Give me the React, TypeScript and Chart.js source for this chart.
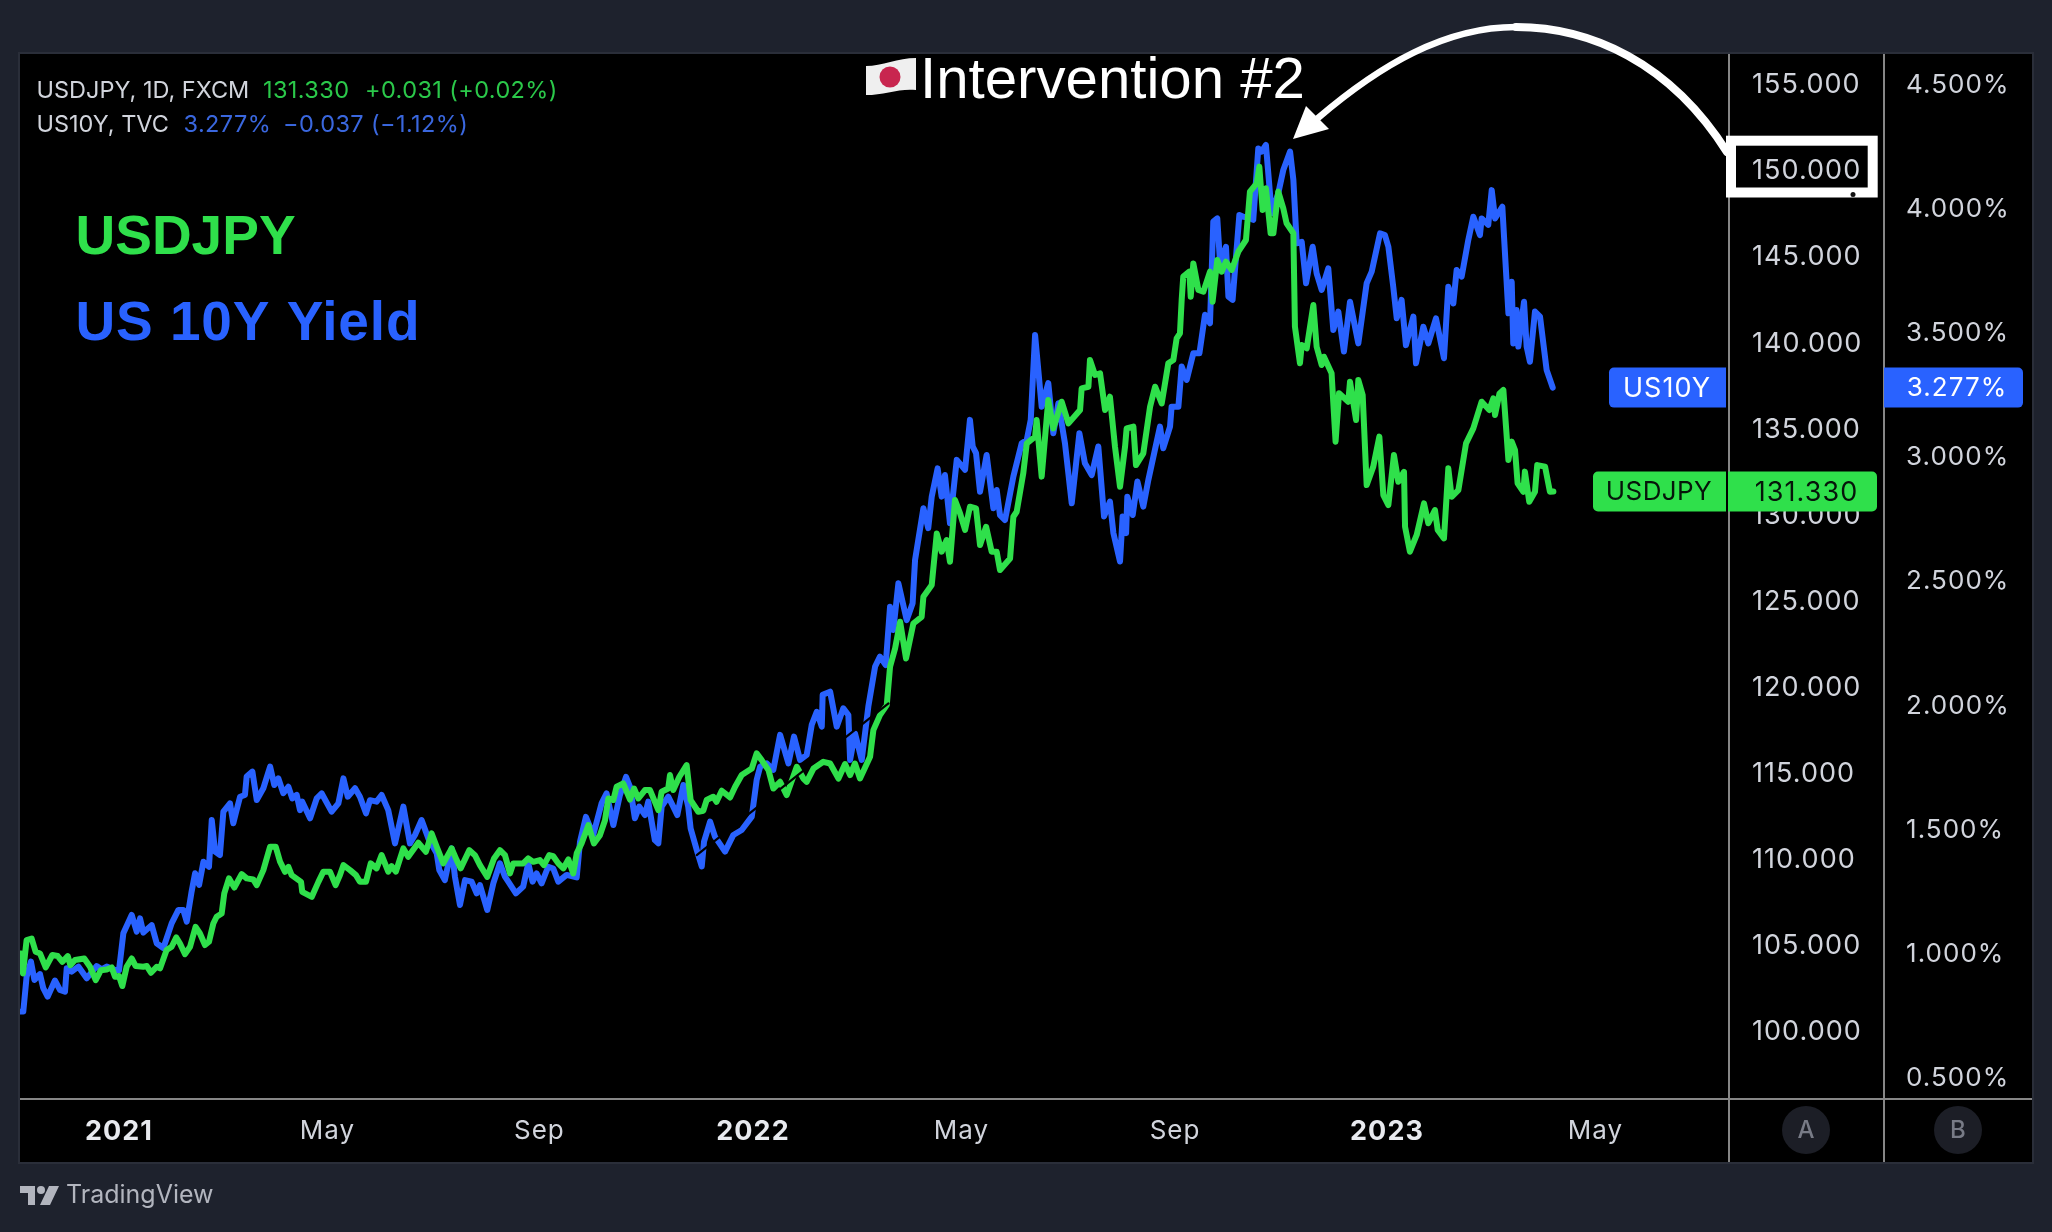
import React, { useEffect, useRef } from "react";
import { Chart, registerables } from "chart.js";

Chart.register(...registerables);

// Days since 2021-01-01
const jpyDays = [-56.4,-55.3,-53.2,-50.3,-48,-45.5,-42.2,-38.4,-35.3,-32.6,-29.5,-28,-25.3,-20,-16.7,-13.4,-10.4,-7.1,-4.2,-2.3,0,1.9,4.4,7.3,9.6,14,16,18.4,21.7,23.6,27.4,30.3,33,35.1,38,40.9,44.1,46.6,49.5,51.8,54.3,56.2,59.1,60.6,63.3,66.4,70.6,73.5,77.3,79.3,83.1,87,90.2,92.7,95.6,97.5,99.4,104.8,105.5,111,114.8,117.6,121.5,124.7,127.2,129.2,133,136.4,138.7,142.2,144.9,148.3,151.2,155,156.9,159.4,163.7,166.5,172.3,176.7,180,182.9,186.7,191.5,194.4,196.7,201.7,204.9,207.8,212,215.9,219.3,222.2,225.1,227,232.7,235.6,238.5,242.3,244.6,247.7,250,252.9,255.8,258.7,261.5,263.5,266.3,270.2,273.4,276.9,279.8,281.7,284.6,286.5,290.3,294.2,296.5,299,302.8,305.7,310.5,312.4,316.2,317.2,319.1,322.6,326.8,329.1,333.5,336.4,338.3,342.1,344,347,351.8,354.7,358.5,364.3,367.1,370,373.9,376.7,380.6,384.4,390.2,394,395.9,399.8,405.5,409.4,414.2,418,420.9,423.7,426.6,432.4,434.3,438.1,442,443.9,446.8,449.7,453.1,457.3,462.1,463.1,467.9,470.8,473.6,476.5,478.4,481.3,484.2,487.1,489.9,493.4,495.7,499.2,502.4,505.3,507.2,513,514.9,516.8,520.6,522.6,527.4,528.3,531.2,535,537.9,542.7,546.6,553.3,554.2,558.1,559,561.9,564.8,567.7,570.5,573.4,576.3,579.2,580.1,584,585.5,589.7,593.6,596.5,600.3,604.1,607,608.9,610.8,611.8,612.7,616.2,617,618.5,621.4,624.3,628.1,629.6,632.3,634.8,637.3,640.6,644.4,648.8,651.1,655,656.5,658.4,660.3,663,664.6,667.4,670.3,672.2,676.1,677,679.9,680.9,683.8,687.6,689.5,692.4,693.7,698.1,700.4,702.4,707.7,708.7,712.2,713.5,716,718.3,722.1,725.6,727.9,730.8,734,736.5,739.8,740.4,743.2,747.1,751.3,753.8,757.6,759.2,762.8,765.3,767.2,771.1,775.5,779.7,784.5,788.9,791.2,792.2,794.7,797,799.9,801.8,803.7,805.2,808.5,809.4,811.9,815.2,816.5,821,823.8,825.8];
const jpyValues = [104.5,103.34,105.28,105.37,104.6,104.5,103.69,104.41,104.35,104.02,104.35,103.82,104.12,104.21,103.73,102.95,103.53,103.57,103.69,103.15,103.19,102.61,103.73,104.21,103.77,103.73,103.77,103.38,103.73,103.63,104.7,104.89,105.43,105.08,104.46,104.89,106.05,105.66,104.99,105.18,106.24,106.63,106.82,107.99,108.86,108.33,109.11,108.86,108.8,108.47,109.34,110.7,110.7,109.83,109.24,109.53,109.05,108.66,108.08,107.79,108.66,109.24,109.24,108.47,109.05,109.63,109.34,109.05,108.66,108.66,109.73,109.44,110.21,109.25,109.57,109.25,110.6,110.11,110.93,110.41,111.47,110.7,109.73,110.6,109.92,109.44,110.5,110.21,109.63,108.95,110.02,110.5,110.21,109.15,109.73,109.73,110.02,109.82,109.92,109.63,110.21,110.15,109.73,109.44,109.96,109.15,110.31,110.89,111.95,110.89,111.37,112.24,113.5,113.41,114.18,114.37,113.44,114.08,113.5,113.99,113.99,112.82,113.89,114.08,114.86,113.99,114.76,115.44,113.41,112.73,112.79,113.41,113.6,113.31,113.95,113.56,114.18,114.86,115.24,116.12,115.73,115.15,114.08,114.47,113.7,115.34,114.66,114.47,115.24,115.63,115.53,114.66,115.5,114.86,115.53,114.66,115.92,117.47,118.34,118.92,121.15,122.21,123.76,121.63,123.66,124.05,125.22,125.9,128.89,127.83,128.51,127.25,130.83,130.06,129.09,130.44,130.35,128.22,129.28,127.83,127.83,126.77,127.44,129.86,130.15,132.38,134.12,134.51,135.48,132.19,136.64,134.99,136.54,135.28,136.06,137.31,137.41,138.96,138.09,138.19,136.06,136.83,133.93,131.6,133.93,134.99,135.09,132.86,133.54,136.25,137.41,136.44,138.77,138.96,140.22,140.51,142.45,143.8,144.09,142.64,144.57,143.03,142.93,144.09,142.35,144.77,144.09,144.67,144.19,145.25,145.93,148.74,149.22,150.19,147.67,148.93,146.32,146.32,148.74,147.77,146.9,146.32,140.9,138.77,139.83,139.64,142.15,139.73,138.67,139.15,138.19,134.22,137.03,136.54,137.7,135.48,137.8,136.93,131.7,132.77,134.51,131.12,130.54,133.44,131.89,132.47,129.28,127.83,128.8,130.64,129.48,130.25,129.09,128.6,132.67,131.02,131.41,134.12,134.99,136.54,136.06,136.73,135.77,137,137.22,133.15,134.22,133.73,131.8,131.31,132.48,130.73,131.31,132.86,132.77,131.31,131.33];

const yieldDays = [-56.4,-55.1,-53.2,-50.7,-48.7,-45.5,-43.6,-41.1,-36.9,-34,-31.1,-30.1,-27.3,-23.4,-18.6,-12.9,-10,-7.1,-2.3,0,2.5,7.3,10.2,12.1,14,18.8,21.7,25.5,30.3,34.2,37,39,41.8,43.8,46.1,48.6,51.8,53.4,55.3,58.1,60.1,63.9,65.8,67.7,69.7,72.5,73.5,76.8,79.3,83.1,87,89.4,91.7,94.6,97.5,99.8,102.3,104.2,105.5,110,113.8,116.7,122.4,126.3,129.2,131.7,135.9,138.7,142.2,144.5,148.3,151.2,155,158.9,163.7,167.5,170.4,174.2,178.1,182.9,184.4,187.6,191.5,193.4,196.3,199.2,203,205.9,207.8,212,215.5,219.3,222.2,224.1,228.5,232.7,235.6,238.1,240.4,243.3,247.1,250,252.9,257.7,263.5,265.4,268.8,273,277.8,280.7,284.6,288.4,291.9,294.2,297,299.5,302.8,304.7,308.5,310.5,312.4,316.2,319.1,321.4,324.9,327.7,329.1,332.6,335.5,336.8,340.3,343.1,348.9,353.7,358.5,364.3,367.1,369.1,372.9,376.7,380.6,385.4,388.6,392.1,395.9,398.8,401.7,404.6,405.1,409.4,413.2,417,419.9,420.9,423.7,427.6,431.4,435.3,438.1,441.4,443.9,445.8,448.7,453.5,456.9,458.3,463.1,465.9,467.9,471.3,473.6,475.5,478.4,482.3,487.1,489.9,491.5,493.4,495.7,499.5,503.4,505.3,507.2,510.1,514.9,519.7,522.6,524.9,527.4,531.2,535,537.9,540.8,544.6,548.5,552.9,556.1,560,563.8,567.1,570.5,572.5,576.3,577.8,579.8,580.5,583.6,586.3,589.7,592.6,599.3,601.2,605.1,606,609.9,611.8,614.7,618.5,622,625.2,628.1,630,632.3,633.9,637.3,638.7,641.1,645,647.3,650.2,653,655.9,657.8,660.3,663.6,667.4,670.3,674.2,676.1,678,680.9,683.4,687.2,689.5,692.4,696.2,699.1,702,705.2,708.7,713.5,718.3,721.2,726,728.8,730.8,733.6,735.6,738.4,740.9,745.2,746.7,750.9,753.8,758.2,762.8,765.3,768.2,770.1,773,776.8,779.7,783.5,784.5,788.3,790.3,792.2,796.4,799.9,801.8,802.7,804.6,805.6,808.9,810.4,812.3,815.2,818.1,821.9,825.4];
const yieldValues = [0.765,0.765,0.905,0.966,0.892,0.916,0.859,0.825,0.89,0.852,0.845,0.939,0.926,0.946,0.899,0.948,0.935,0.946,0.932,0.932,1.08,1.154,1.087,1.14,1.083,1.113,1.04,1.02,1.12,1.174,1.174,1.127,1.248,1.322,1.275,1.368,1.348,1.536,1.409,1.395,1.57,1.603,1.523,1.576,1.63,1.637,1.711,1.731,1.617,1.664,1.751,1.677,1.704,1.644,1.67,1.623,1.637,1.576,1.61,1.543,1.623,1.643,1.57,1.603,1.704,1.63,1.664,1.63,1.563,1.616,1.61,1.637,1.576,1.442,1.59,1.442,1.476,1.536,1.462,1.402,1.335,1.294,1.422,1.308,1.194,1.294,1.288,1.241,1.274,1.174,1.281,1.362,1.308,1.288,1.241,1.268,1.362,1.288,1.321,1.281,1.348,1.341,1.288,1.315,1.305,1.449,1.549,1.476,1.603,1.643,1.516,1.637,1.71,1.67,1.543,1.59,1.556,1.61,1.455,1.442,1.59,1.63,1.59,1.556,1.677,1.59,1.502,1.416,1.349,1.449,1.53,1.469,1.409,1.476,1.496,1.55,1.697,1.751,1.764,1.738,1.879,1.764,1.872,1.778,1.798,1.919,1.972,1.912,2.04,2.053,1.912,1.986,1.959,1.778,1.885,1.778,1.993,2.154,2.194,2.16,2.395,2.301,2.489,2.341,2.409,2.583,2.791,2.711,2.838,2.952,2.838,2.925,2.731,2.986,2.946,3.147,3.04,3.013,2.858,3.006,2.791,2.865,2.764,2.744,2.919,3.053,3.066,3.147,3.489,3.2,3.295,3.093,3.214,3.053,2.811,3.093,2.972,2.925,3.04,2.758,2.818,2.691,2.577,2.758,2.691,2.838,2.764,2.899,2.798,2.905,3.12,3.033,3.12,3.2,3.2,3.362,3.308,3.415,3.415,3.57,3.536,3.945,3.958,3.777,3.844,3.643,3.63,3.972,3.965,3.962,3.952,4.24,4.227,4.254,3.979,4.059,4.153,4.227,4.113,3.858,3.864,3.697,3.844,3.737,3.67,3.757,3.509,3.583,3.422,3.623,3.455,3.697,3.744,3.898,3.891,3.844,3.683,3.556,3.63,3.448,3.563,3.375,3.522,3.455,3.556,3.395,3.683,3.616,3.75,3.724,3.871,3.965,3.891,3.958,3.932,4.072,3.958,4.005,3.576,3.703,3.455,3.589,3.442,3.623,3.442,3.381,3.583,3.563,3.348,3.277];

// The drawn black trend line that shows only where it crosses the series
const trendDays = [332.6, 443];
const trendValues = [110.21, 119.02];

const jpyTicks = [100, 105, 110, 115, 120, 125, 130, 135, 140, 145, 150, 155];
const yieldTicks = [0.5, 1, 1.5, 2, 2.5, 3, 3.5, 4, 4.5];
const timeTickDays = [0, 120, 242, 365, 485, 608, 730, 850];
const timeTickLabels = ["2021", "May", "Sep", "2022", "May", "Sep", "2023", "May"];

const GREEN = "#2FE04B";
const BLUE = "#2962FF";
const SOFT = "#D1D4DC";
const PANEL = "#1E222D";
const RULE = "#868686";
const SANS = "Inter, 'Liberation Sans', sans-serif";
const HELV = "'Liberation Sans', Arial, sans-serif";
const AXIS_SPACING = "1.05px";

const pairs = (xs: number[], ys: number[]) => xs.map((x, i) => ({ x, y: ys[i] }));

const backdrop = {
  id: "backdrop",
  beforeDraw(chart: any) {
    const c = chart.ctx;
    c.save();
    c.fillStyle = PANEL;
    c.fillRect(0, 0, chart.width, chart.height);
    c.fillStyle = "#000";
    c.fillRect(20, 54, 2012, 1108);
    c.strokeStyle = "#2A2E39";
    c.lineWidth = 2;
    c.strokeRect(19, 53, 2014, 1110);
    c.restore();
    c.letterSpacing = AXIS_SPACING;
  },
};

const rules = {
  id: "rules",
  beforeDatasetsDraw(chart: any) {
    const c = chart.ctx;
    const { left, right, top, bottom } = chart.chartArea;
    const axisX2 = chart.scales.y1.right;
    c.save();
    c.strokeStyle = RULE;
    c.lineWidth = 2;
    c.beginPath();
    c.moveTo(left, bottom);
    c.lineTo(axisX2, bottom);
    c.moveTo(right, top);
    c.lineTo(right, 1162);
    c.moveTo(chart.scales.y.right, top);
    c.lineTo(chart.scales.y.right, 1162);
    c.stroke();
    c.letterSpacing = "0px";
    for (const [name, cx] of [["A", 1806], ["B", 1958]] as [string, number][]) {
      c.fillStyle = "#1C1E26";
      c.beginPath();
      c.arc(cx, 1130, 24, 0, Math.PI * 2);
      c.fill();
      c.fillStyle = "#787B86";
      c.font = `500 24px ${SANS}`;
      c.textAlign = "center";
      c.textBaseline = "middle";
      c.fillText(name, cx, 1131);
    }
    c.restore();
    c.letterSpacing = AXIS_SPACING;
  },
};

function roundRect(c: any, x: number, y: number, w: number, h: number, r: number[], color: string) {
  c.fillStyle = color;
  c.beginPath();
  c.roundRect(x, y, w, h, r);
  c.fill();
}

const overlay = {
  id: "overlay",
  afterDraw(chart: any) {
    const c = chart.ctx;
    const yJ = chart.scales.y.getPixelForValue(jpyValues[jpyValues.length - 1]);
    const yY = chart.scales.y1.getPixelForValue(yieldValues[yieldValues.length - 1]);
    c.save();

    // Price tags
    c.textBaseline = "middle";
    roundRect(c, 1609, yY - 20, 117, 40, [5, 0, 0, 5], BLUE);
    roundRect(c, 1884, yY - 20, 139, 40, [0, 5, 5, 0], BLUE);
    roundRect(c, 1593, yJ - 20, 133, 40, [5, 0, 0, 5], GREEN);
    roundRect(c, 1728, yJ - 20, 149, 40, [0, 5, 5, 0], GREEN);
    c.textAlign = "center";
    c.fillStyle = "#fff";
    c.letterSpacing = "1.05px";
    c.font = `400 27px ${SANS}`;
    c.fillText("US10Y", 1667, yY + 1);
    c.font = `400 26px ${SANS}`;
    c.fillText(`${yieldValues[yieldValues.length - 1].toFixed(3)}%`, 1957, yY + 1);
    c.fillStyle = "#06150A";
    c.font = `400 27px ${SANS}`;
    c.fillText(jpyValues[jpyValues.length - 1].toFixed(3), 1806.5, yJ + 1);
    c.letterSpacing = "0.4px";
    c.font = `400 26px ${SANS}`;
    c.fillText("USDJPY", 1659, yJ + 1);

    // Header lines
    c.textAlign = "left";
    c.font = `400 23.5px ${SANS}`;
    c.letterSpacing = "0px";
    c.fillStyle = SOFT;
    c.fillText("USDJPY, 1D, FXCM", 36.5, 91);
    c.fillText("US10Y, TVC", 36.5, 125);
    c.letterSpacing = "0.4px";
    c.fillStyle = "#2BC84A";
    c.fillText("131.330", 263, 91);
    c.fillText("+0.031 (+0.02%)", 365, 91);
    c.fillStyle = "#3A67DE";
    c.fillText("3.277%", 183.5, 125);
    c.fillText("−0.037 (−1.12%)", 283, 125);

    // Big labels
    c.font = `700 55px ${HELV}`;
    c.textBaseline = "alphabetic";
    c.letterSpacing = "0px";
    c.fillStyle = GREEN;
    c.fillText("USDJPY", 75.5, 254);
    c.fillStyle = BLUE;
    c.letterSpacing = "0.9px";
    c.fillText("US 10Y Yield", 75.5, 340);
    c.letterSpacing = "0px";

    // Annotation
    c.fillStyle = "#fff";
    c.font = `400 58.2px ${HELV}`;
    c.fillText("Intervention #2", 920, 98);

    // Flag
    c.fillStyle = "#EFEFEF";
    c.beginPath();
    c.moveTo(866, 66);
    c.bezierCurveTo(882, 66, 898, 58, 916, 58);
    c.lineTo(916, 90);
    c.bezierCurveTo(900, 88, 884, 95, 866, 95);
    c.closePath();
    c.fill();
    c.fillStyle = "#C8264F";
    c.beginPath();
    c.arc(890, 77, 10.5, 0, Math.PI * 2);
    c.fill();

    // Box around the 150 level
    c.strokeStyle = "#fff";
    c.lineWidth = 10;
    c.strokeRect(1731, 140.7, 141.7, 51.8);
    c.fillStyle = "#111";
    c.beginPath();
    c.arc(1853, 194.6, 2.5, 0, Math.PI * 2);
    c.fill();

    // Arrow
    c.lineCap = "round";
    c.lineWidth = 8;
    c.beginPath();
    c.moveTo(1727, 152);
    c.bezierCurveTo(1670, 62, 1590, 27, 1516, 27);
    c.stroke();
    c.lineWidth = 6.5;
    c.beginPath();
    c.moveTo(1516, 27);
    c.bezierCurveTo(1445, 27, 1380, 65, 1318, 118);
    c.stroke();
    c.fillStyle = "#fff";
    c.beginPath();
    c.moveTo(1293, 139);
    c.lineTo(1306, 106);
    c.lineTo(1329, 129);
    c.closePath();
    c.fill();

    // Footer
    c.fillStyle = "#B2B5BE";
    c.beginPath();
    c.moveTo(20, 1186);
    c.lineTo(35, 1186);
    c.lineTo(35, 1205);
    c.lineTo(28, 1205);
    c.lineTo(28, 1193);
    c.lineTo(20, 1193);
    c.closePath();
    c.moveTo(49, 1186);
    c.lineTo(59, 1186);
    c.lineTo(50, 1205);
    c.lineTo(40, 1205);
    c.closePath();
    c.fill();
    c.beginPath();
    c.arc(41, 1190, 4, 0, Math.PI * 2);
    c.fill();
    c.font = `400 25px ${SANS}`;
    c.textBaseline = "middle";
    c.fillText("TradingView", 66, 1195);
    c.restore();
  },
};

export default function App() {
  const ref = useRef<HTMLCanvasElement>(null);
  useEffect(() => {
    const lineBase = {
      pointRadius: 0,
      tension: 0,
      borderJoinStyle: "round",
      borderCapStyle: "round",
      parsing: false,
      normalized: true,
    };
    const chart = new Chart(ref.current as HTMLCanvasElement, {
      type: "line",
      data: {
        datasets: [
          { ...lineBase, label: "Trend", data: pairs(trendDays, trendValues), yAxisID: "y", borderColor: "#000", borderWidth: 2.2 },
          { ...lineBase, label: "USDJPY", data: pairs(jpyDays, jpyValues), yAxisID: "y", borderColor: GREEN, borderWidth: 6 },
          { ...lineBase, label: "US10Y", data: pairs(yieldDays, yieldValues), yAxisID: "y1", borderColor: BLUE, borderWidth: 6 },
        ],
      } as any,
      plugins: [backdrop, rules, overlay],
      options: {
        animation: false,
        responsive: false,
        devicePixelRatio: 1,
        events: [],
        layout: { padding: { left: 20, right: 20, top: 54, bottom: 70 } },
        plugins: { legend: { display: false }, tooltip: { enabled: false } },
        scales: {
          x: {
            type: "linear",
            min: -57,
            max: 926.9,
            afterFit: (s: any) => { s.height = 63; },
            afterBuildTicks: (s: any) => { s.ticks = timeTickDays.map((value) => ({ value })); },
            grid: { display: false, drawTicks: false },
            border: { display: false },
            ticks: {
              autoSkip: false,
              maxRotation: 0,
              padding: 17,
              color: (ctx: any) => (/^\d/.test(timeTickLabels[ctx.index]) ? "#E8EAEF" : SOFT),
              font: (ctx: any) => ({ family: SANS, size: /^\d/.test(timeTickLabels[ctx.index]) ? 27 : 26, weight: /^\d/.test(timeTickLabels[ctx.index]) ? "700" : "400" }),
              callback: (_v: any, i: number) => timeTickLabels[i],
            },
          },
          y: {
            position: "right",
            min: 96.05,
            max: 156.73,
            afterFit: (s: any) => { s.width = 155; },
            afterBuildTicks: (s: any) => { s.ticks = jpyTicks.map((value) => ({ value })); },
            grid: { display: false, drawTicks: false },
            border: { display: false },
            ticks: { padding: 23, labelOffset: 1.3, color: SOFT, font: { family: SANS, size: 27 }, callback: (v: any) => Number(v).toFixed(3) },
          },
          y1: {
            position: "right",
            min: 0.413,
            max: 4.62,
            afterFit: (s: any) => { s.width = 148; },
            afterBuildTicks: (s: any) => { s.ticks = yieldTicks.map((value) => ({ value })); },
            grid: { display: false, drawTicks: false },
            border: { display: false },
            ticks: { padding: 22, labelOffset: 1, color: SOFT, font: { family: SANS, size: 26 }, callback: (v: any) => `${Number(v).toFixed(3)}%` },
          },
        },
      } as any,
    });
    return () => chart.destroy();
  }, []);
  return (
    <div style={{ position: "fixed", left: 0, top: 0, width: 2052, height: 1232 }}>
      <canvas ref={ref} width={2052} height={1232} style={{ display: "block", width: 2052, height: 1232 }} />
    </div>
  );
}
